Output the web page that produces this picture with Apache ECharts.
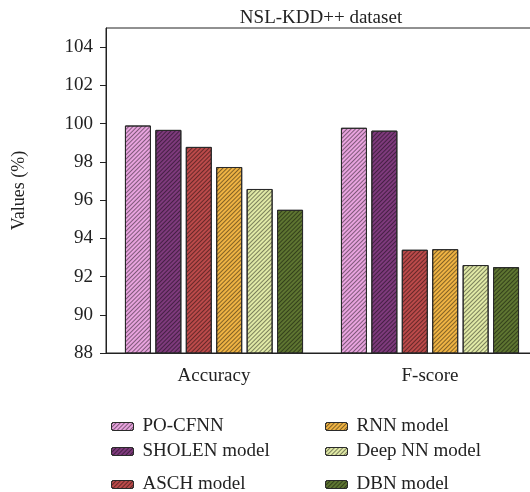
<!DOCTYPE html>
<html><head><meta charset="utf-8">
<script src="https://cdn.jsdelivr.net/npm/echarts@6/dist/echarts.min.js"></script>
<style>html,body{margin:0;padding:0;background:#fff;overflow:hidden}#c{width:540px;height:492px}</style>
</head><body><div id="c"></div>
<script>
const categories = ['Accuracy', 'F-score'];
const seriesNames = ['PO-CFNN', 'SHOLEN model', 'ASCH model', 'RNN model', 'Deep NN model', 'DBN model'];
const poCfnn = [99.9, 99.78];
const sholen = [99.67, 99.63];
const asch = [98.78, 93.4];
const rnn = [97.73, 93.43];
const deepNN = [96.58, 92.6];
const dbn = [95.49, 92.49];
const seriesData = [poCfnn, sholen, asch, rnn, deepNN, dbn];
const colors = ['#e8a3de', '#7e3a7c', '#bb4a4a', '#efb343', '#e0e9a6', '#5e7531'];

const font = 'Liberation Serif';
const chart = echarts.init(document.getElementById('c'));
const series = seriesNames.map((n, i) => ({
  name: n, type: 'bar', data: seriesData[i], barWidth: 26, barGap: '17%',
  itemStyle: {
    color: colors[i], borderColor: '#2a2a2a', borderWidth: 1,
    decal: { symbol: 'rect', color: 'rgba(0,0,0,0.45)', dashArrayX: [1, 0], dashArrayY: [1, 2], rotation: -Math.PI / 4, symbolSize: 1 }
  }
}));
const legendPos = [
  [106, 412], [106, 437], [106, 470],
  [320, 412], [320, 437], [320, 470]
];
const legends = seriesNames.map((n, i) => ({
  data: [n], left: legendPos[i][0], top: legendPos[i][1], itemWidth: 22, itemHeight: 8, itemGap: 10,
  textStyle: { fontFamily: font, fontSize: 19, color: '#222', padding: [0, 0, 0, 4] },
  itemStyle: { borderColor: '#2a2a2a', borderWidth: 1 }
}));
chart.setOption({
  animation: false,
  title: { text: 'NSL-KDD++ dataset', left: 316, top: 4, textAlign: 'center',
    textStyle: { fontFamily: font, fontSize: 19, fontWeight: 'normal', color: '#222' } },
  legend: legends,
  grid: { left: 106, top: 28, width: 432, height: 325, show: true, borderColor: '#222', borderWidth: 1 },
  xAxis: {
    type: 'category', data: categories,
    axisLine: { lineStyle: { color: '#222', width: 1 } },
    axisTick: { alignWithLabel: true, length: 6, lineStyle: { color: '#222' } },
    axisLabel: { fontFamily: font, fontSize: 19, color: '#222', margin: 14 }
  },
  yAxis: {
    type: 'value', min: 88, max: 105, interval: 2,
    name: 'Values (%)', nameLocation: 'middle', nameGap: 78, nameRotate: 90,
    nameTextStyle: { fontFamily: font, fontSize: 18, color: '#222' },
    splitLine: { show: false },
    axisLine: { show: true, lineStyle: { color: '#222', width: 1 } },
    axisTick: { show: true, length: 6, lineStyle: { color: '#222' } },
    axisLabel: { fontFamily: font, fontSize: 19, color: '#222', margin: 13, showMaxLabel: false }
  },
  series: series
});
</script></body></html>
